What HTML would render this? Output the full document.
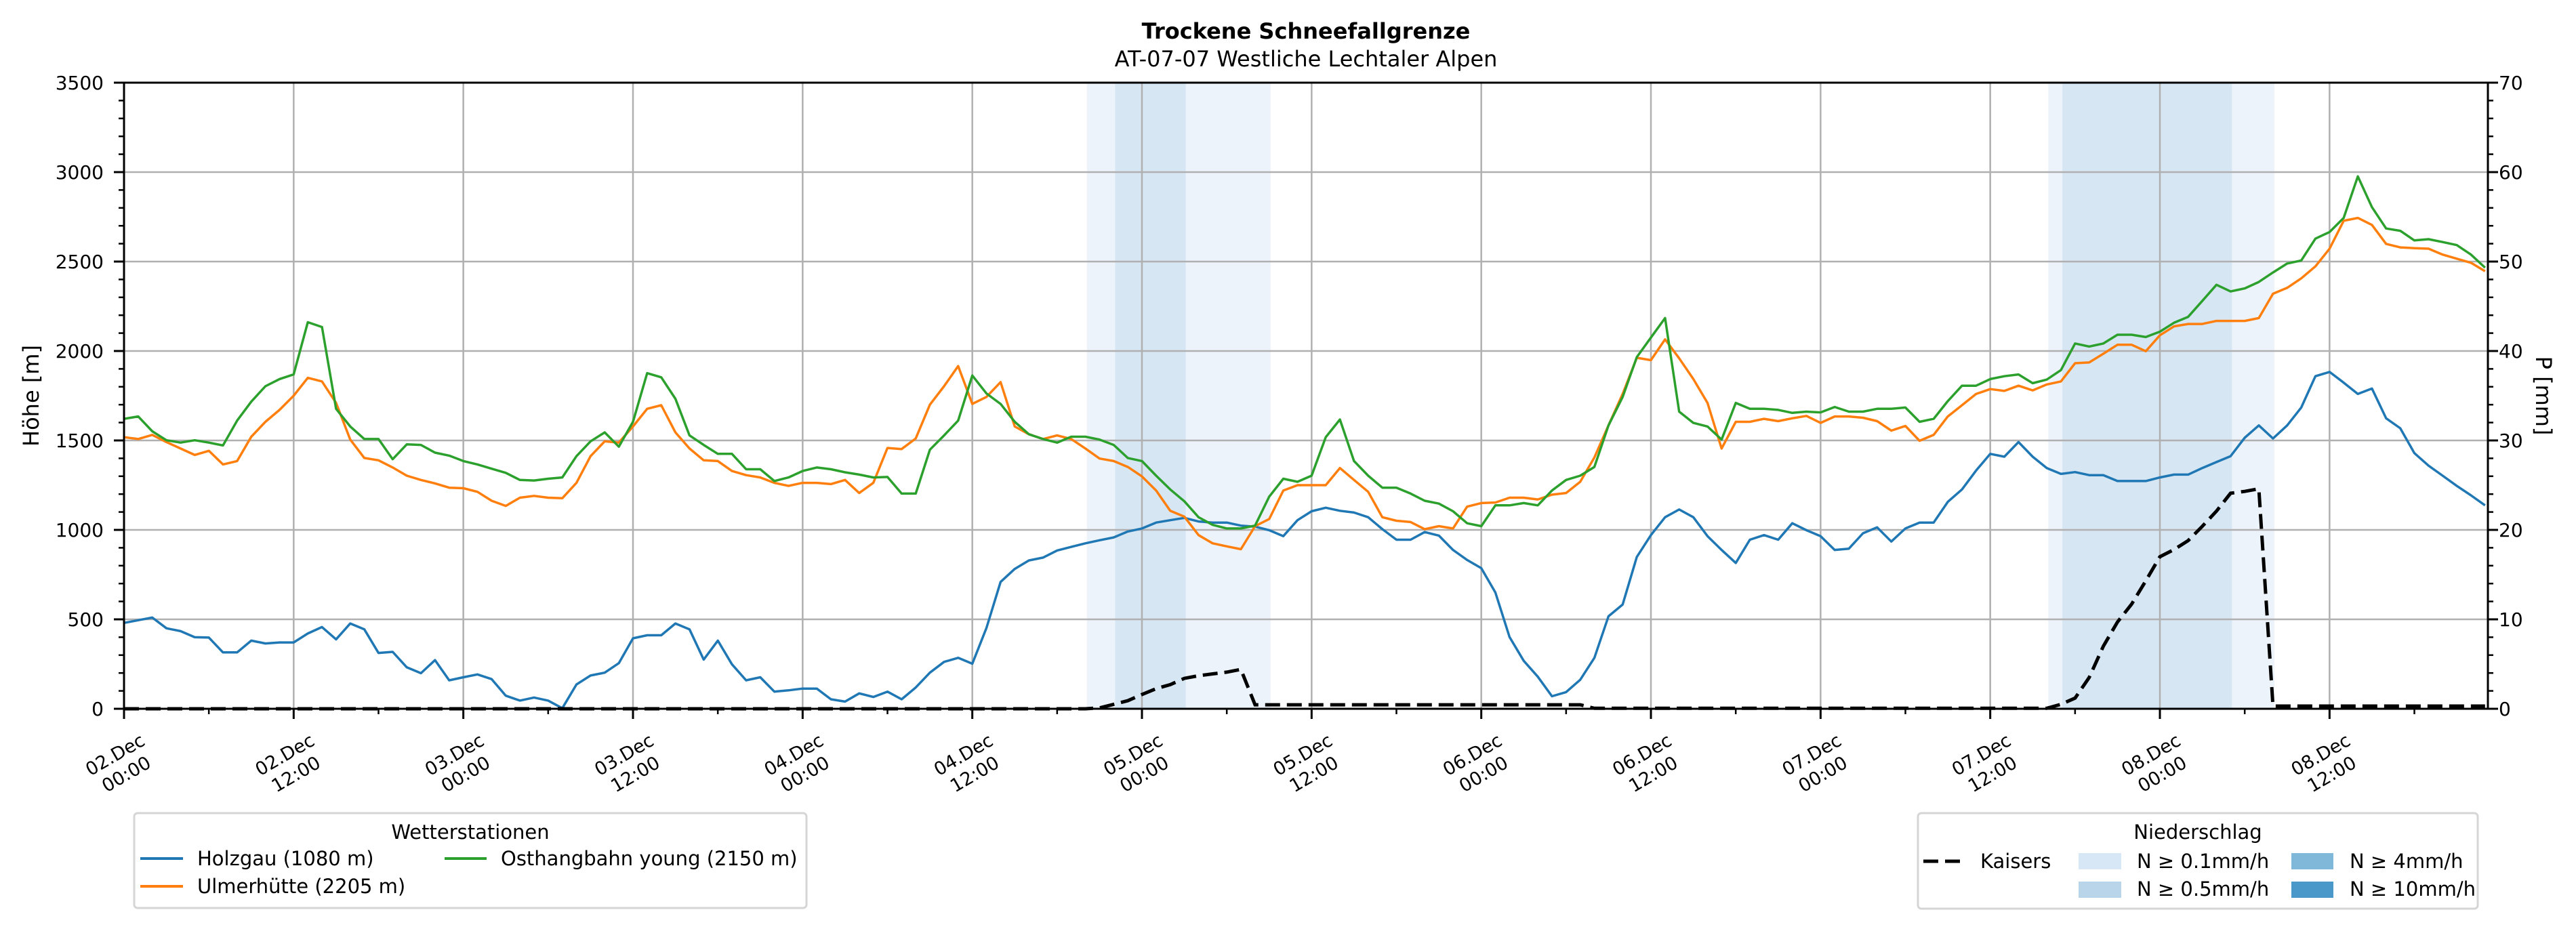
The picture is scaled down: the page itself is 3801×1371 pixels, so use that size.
<!DOCTYPE html>
<html><head><meta charset="utf-8"><style>
html,body{margin:0;padding:0;background:#fff;}
svg{display:block;font-family:"DejaVu Sans","Liberation Sans",sans-serif;}
</style></head><body>
<svg id="chart" width="3801" height="1371" viewBox="0 0 3801 1371" xmlns="http://www.w3.org/2000/svg">
<rect x="0" y="0" width="3801" height="1371" fill="#fff"/>
<g id="spans"></g><g id="grid"></g><g id="series"></g><g id="axes"></g>
<text x="1927" y="57" text-anchor="middle" font-size="32" font-weight="bold">Trockene Schneefallgrenze</text>
<text x="1927" y="98" text-anchor="middle" font-size="32">AT-07-07 Westliche Lechtaler Alpen</text>
<text transform="translate(57,584) rotate(-90)" text-anchor="middle" font-size="32">Höhe [m]</text>
<text transform="translate(3742,584) rotate(90)" text-anchor="middle" font-size="32">P [mm]</text>
<g>
<rect x="198" y="1200" width="992" height="140" rx="5" fill="#fff" stroke="#d5d5d5" stroke-width="3"/>
<text x="694" y="1238" text-anchor="middle" font-size="29">Wetterstationen</text>
<g><line x1="207" y1="1267" x2="270" y2="1267" stroke="#1f77b4" stroke-width="4"/><text x="291" y="1277" font-size="29">Holzgau (1080 m)</text></g>
<g><line x1="207" y1="1308" x2="270" y2="1308" stroke="#ff7f0e" stroke-width="4"/><text x="291" y="1318" font-size="29">Ulmerhütte (2205 m)</text></g>
<g><line x1="656" y1="1267" x2="718" y2="1267" stroke="#2ca02c" stroke-width="4"/><text x="739" y="1277" font-size="29">Osthangbahn young (2150 m)</text></g>
</g>
<g>
<rect x="2830" y="1200" width="826" height="141" rx="5" fill="#fff" stroke="#d5d5d5" stroke-width="3"/>
<text x="3243" y="1238" text-anchor="middle" font-size="29">Niederschlag</text>
<g><line x1="2838" y1="1271" x2="2895" y2="1271" stroke="#000" stroke-width="5" stroke-dasharray="22,10"/><text x="2922" y="1281" font-size="29">Kaisers</text></g>
<g><rect x="3067" y="1259" width="63" height="24" fill="#d8e7f5"/><text x="3153" y="1281" font-size="29">N ≥ 0.1mm/h</text></g>
<g><rect x="3067" y="1301" width="63" height="24" fill="#b9d5ea"/><text x="3153" y="1322" font-size="29">N ≥ 0.5mm/h</text></g>
<g><rect x="3381" y="1259" width="62" height="24" fill="#80b8d9"/><text x="3467" y="1281" font-size="29">N ≥ 4mm/h</text></g>
<g><rect x="3381" y="1301" width="62" height="24" fill="#4a98c9"/><text x="3467" y="1322" font-size="29">N ≥ 10mm/h</text></g>
</g>
</svg>
<script>
const holzgau=[480,495,510,450,434,400,398,315,315,381,365,371,371,421,457,388,477,444,312,318,232,199,272,159,176,192,166,73,46,63,46,3,136,186,202,255,394,411,411,477,444,275,381,249,159,176,96,103,113,113,53,40,86,66,
96,53,119,202,262,285,252,451,709,782,829,845,885,905,925,942,958,991,1008,1041,1054,1067,1047,1041,1041,1024,1018,998,965,1054,1104,1124,1107,1097,1071,1004,945,945,988,968,888,832,786,650,401,268,179,70,93,162,285,517,583,849,971,1071,1114,1071,
965,888,815,945,971,945,1037,998,965,888,895,981,1014,935,1008,1041,1041,1157,1226,1332,1425,1409,1491,1409,1346,1313,1323,1306,1306,1273,1273,1273,1293,1309,1309,1346,1379,1412,1515,1584,1511,1584,1684,1859,1883,1823,1760,1790,1624,1568,1429,1359,1303,1246,1193,1137];
const ulmer=[1518,1508,1531,1491,1455,1419,1442,1366,1385,1521,1604,1671,1750,1850,1830,1710,1505,1402,1389,1349,1303,1279,1260,1236,1233,1213,1163,1134,1180,1190,1180,1177,1263,1412,1495,1488,1578,1677,1697,1545,1455,1389,1385,1329,1306,1293,1263,1246,1263,1263,1256,1279,1206,1263,
1458,1452,1511,1700,1803,1916,1704,1743,1826,1578,1535,1508,1528,1508,1455,1399,1385,1352,1299,1220,1107,1074,971,925,908,892,1021,1061,1220,1250,1250,1250,1346,1279,1213,1071,1051,1044,1004,1021,1008,1130,1150,1153,1180,1180,1170,1197,1206,1269,1405,1584,1760,1962,1949,2065,1959,1843,
1710,1455,1604,1604,1621,1608,1624,1637,1598,1634,1634,1627,1608,1555,1581,1498,1531,1634,1697,1760,1787,1777,1806,1780,1813,1830,1932,1936,1985,2035,2035,1999,2088,2138,2151,2151,2168,2168,2168,2184,2320,2353,2406,2473,2572,2728,2744,2705,2599,2579,2575,2572,2539,2516,2493,2446];
const osthang=[1621,1634,1551,1501,1488,1501,1488,1472,1611,1717,1803,1843,1869,2161,2134,1677,1578,1508,1508,1395,1478,1475,1432,1415,1385,1366,1342,1319,1279,1276,1286,1293,1412,1495,1545,1465,1604,1876,1853,1733,1528,1475,1425,1425,1339,1339,1273,1293,1329,1349,1339,1322,1309,1293,
1296,1203,1203,1448,1528,1611,1863,1763,1704,1604,1535,1508,1488,1521,1521,1505,1475,1402,1385,1303,1226,1160,1071,1028,1008,1008,1024,1186,1286,1269,1303,1518,1617,1385,1303,1236,1236,1203,1163,1147,1104,1037,1021,1137,1137,1150,1137,1220,1279,1303,1352,1584,1743,1966,2075,2184,1661,1598,
1578,1505,1710,1677,1677,1671,1654,1661,1657,1687,1661,1661,1677,1677,1684,1604,1621,1720,1806,1806,1843,1859,1869,1820,1840,1893,2042,2025,2042,2091,2091,2078,2108,2158,2191,2280,2370,2333,2350,2386,2439,2489,2506,2628,2665,2744,2976,2804,2685,2672,2618,2625,2609,2592,2539,2466];
const kaisersHours=[0,68,69,70,71,72,73,74,75,76,77,78,79,80,103,104,136,137,138,139,140,141,142,143,144,145,146,147,148,149,150,151,152,167];
const kaisersValues=[0,0,0.1,0.5,0.9,1.6,2.25,2.7,3.4,3.7,3.9,4.1,4.4,0.45,0.45,0.05,0.05,0.5,1.2,3.5,7.0,9.7,11.7,14.3,17.0,17.8,18.8,20.4,22.1,24.1,24.3,24.6,0.3,0.3];
const spanStart=[68.1,136.1,70.1,137.1];
const spanEnd=[81.1,152.1,75.1,149.1];
const spanLevel=[0,0,1,1];
const yTicks=[0,500,1000,1500,2000,2500,3000,3500];
const y2Ticks=[0,10,20,30,40,50,60,70];
const xTickHours=[0,12,24,36,48,60,72,84,96,108,120,132,144,156];
const xTickDays=["02.Dec","02.Dec","03.Dec","03.Dec","04.Dec","04.Dec","05.Dec","05.Dec","06.Dec","06.Dec","07.Dec","07.Dec","08.Dec","08.Dec"];
const xTickTimes=["00:00","12:00","00:00","12:00","00:00","12:00","00:00","12:00","00:00","12:00","00:00","12:00","00:00","12:00"];

const L=183,R=3671,T=122,B=1046,HMAX=167.2;
const NS="http://www.w3.org/2000/svg";
const X=h=>L+(R-L)*h/HMAX;
const Y=v=>B-(B-T)*v/3500;
const Y2=v=>B-(B-T)*v/70;
function mk(tag,attrs,parent){const e=document.createElementNS(NS,tag);for(const k in attrs)e.setAttribute(k,attrs[k]);parent.appendChild(e);return e;}
const gS=document.getElementById('spans'),gG=document.getElementById('grid'),gL=document.getElementById('series'),gA=document.getElementById('axes');
const spanColors=['#edf3fa','#d7e6f3'];
for(let i=0;i<spanStart.length;i++){
  const r=mk('rect',{x:X(spanStart[i]),y:T,width:X(spanEnd[i])-X(spanStart[i]),height:B-T,fill:spanColors[spanLevel[i]]},gS);
  
  
}
yTicks.forEach(v=>{
  const l=mk('line',{x1:L,x2:R,y1:Y(v),y2:Y(v),stroke:'#b0b0b0','stroke-width':2.5},gG);
  
  
});
xTickHours.forEach(h=>{
  const l=mk('line',{x1:X(h),x2:X(h),y1:T,y2:B,stroke:'#b0b0b0','stroke-width':2.5},gG);
  
  
});
function path(vals,xs,yf){return vals.map((v,i)=>(i?'L':'M')+X(xs[i]).toFixed(1)+','+yf(v).toFixed(1)).join('');}
const hrs=n=>Array.from({length:n},(_,i)=>i);
const series=[[holzgau,'#1f77b4','line-holzgau'],[ulmer,'#ff7f0e','line-ulmerhuette'],[osthang,'#2ca02c','line-osthangbahn']];
series.forEach(s=>{
  const p=mk('path',{d:path(s[0],hrs(s[0].length),Y),fill:'none',stroke:s[1],'stroke-width':3.5,'stroke-linejoin':'round'},gL);
  
  
});
const kp=mk('path',{d:path(kaisersValues,kaisersHours,Y2),fill:'none',stroke:'#000','stroke-width':5,'stroke-dasharray':'22,10'},gL);


const fr=mk('rect',{x:L,y:T,width:R-L,height:B-T,fill:'none',stroke:'#000','stroke-width':3},gA);


for(let v=0;v<=3500;v+=100){
  const major=v%500===0;
  const t=mk('line',{x1:L,x2:L-(major?15:8),y1:Y(v),y2:Y(v),stroke:'#000','stroke-width':major?3:2.5},gA);
  
  
}
yTicks.forEach(v=>{
  const t=mk('text',{x:153,y:Y(v)+10,'text-anchor':'end','font-size':28},gA);t.textContent=v;
  
  
});
for(let v=0;v<=70;v+=2){
  const major=v%10===0;
  const t=mk('line',{x1:R,x2:R+(major?15:8),y1:Y2(v),y2:Y2(v),stroke:'#000','stroke-width':major?3:2.5},gA);
  
  
}
y2Ticks.forEach(v=>{
  const t=mk('text',{x:3687,y:Y2(v)+10,'font-size':28},gA);t.textContent=v;
  
  
});
for(let h=0;h<=HMAX;h+=6){
  const major=h%12===0;
  const t=mk('line',{x1:X(h),x2:X(h),y1:B,y2:B+(major?15:8),stroke:'#000','stroke-width':major?3:2.5},gA);
  
  
}
xTickHours.forEach((h,i)=>{
  const g=mk('text',{transform:'translate('+(X(h)-5)+',1128) rotate(-30)','text-anchor':'middle','font-size':27},gA);
  
  
  const a=mk('tspan',{x:0,y:-7},g);a.textContent=xTickDays[i];
  const b=mk('tspan',{x:0,y:26},g);b.textContent=xTickTimes[i];
});
</script>
</body></html>
